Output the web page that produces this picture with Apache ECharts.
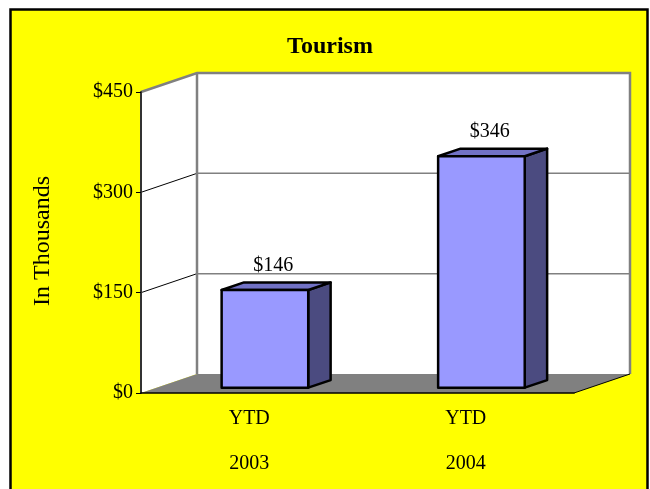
<!DOCTYPE html>
<html>
<head>
<meta charset="utf-8">
<script src="https://cdn.jsdelivr.net/npm/echarts@6/dist/echarts.min.js"></script>
<style>
  html, body { margin: 0; padding: 0; background: #ffffff; }
  #chart { width: 650px; height: 489px; }
</style>
</head>
<body>
<div id="chart"></div>
<script>
// ---- data ----
var categories = ['YTD\n\n2003', 'YTD\n\n2004'];
var values = [146, 346];
var yTicks = [0, 150, 300, 450];
var titleText = 'Tourism';
var yTitle = 'In Thousands';

// ---- style constants ----
var FONT = '"Liberation Serif", "Times New Roman", serif';
var DEPTH = [56, -19];          // 3D depth vector of the walls (px)
var BAR_F0 = 0.28, BAR_F1 = 0.68; // bar depth position fractions
var BAR_W = 0.4;                // bar width fraction of band

var chart = echarts.init(document.getElementById('chart'));

function wallsRender(params, api) {
  var cs = params.coordSys;
  var x0 = cs.x, x1 = cs.x + cs.width, yT = cs.y, yB = cs.y + cs.height;
  var dx = DEPTH[0], dy = DEPTH[1];
  var children = [];
  children.push({ type: 'polygon', shape: { points: [[x0, yT], [x0 + dx, yT + dy], [x0 + dx, yB + dy], [x0, yB]] }, style: { fill: '#ffffff' } });
  children.push({ type: 'rect', shape: { x: x0 + dx, y: yT + dy, width: cs.width, height: cs.height }, style: { fill: '#ffffff' } });
  children.push({ type: 'polygon', shape: { points: [[x0, yB], [x0 + dx, yB + dy], [x1 + dx, yB + dy], [x1, yB]] }, style: { fill: '#808080' } });
  for (var i = 1; i < yTicks.length - 1; i++) {
    var y = api.coord([0, yTicks[i]])[1];
    children.push({ type: 'line', shape: { x1: x0, y1: y, x2: x0 + dx, y2: y + dy }, style: { stroke: '#000000', lineWidth: 1 } });
    children.push({ type: 'line', shape: { x1: x0 + dx, y1: y + dy, x2: x1 + dx, y2: y + dy }, style: { stroke: '#808080', lineWidth: 1.5 } });
  }
  children.push({ type: 'polyline', shape: { points: [[x0, yT], [x0 + dx, yT + dy], [x1 + dx, yT + dy], [x1 + dx, yB + dy]] }, style: { stroke: '#808080', lineWidth: 2.5, fill: null } });
  children.push({ type: 'line', shape: { x1: x0 + dx, y1: yT + dy, x2: x0 + dx, y2: yB + dy }, style: { stroke: '#808080', lineWidth: 2.5 } });
  children.push({ type: 'line', shape: { x1: x1, y1: yB, x2: x1 + dx, y2: yB + dy }, style: { stroke: '#000000', lineWidth: 1 } });
  return { type: 'group', children: children };
}

function barRender(params, api) {
  var idx = api.value(0);
  var v = api.value(1);
  var top = api.coord([idx, v]);
  var base = api.coord([idx, 0]);
  var band = api.size([1, 0])[0];
  var w = band * BAR_W;
  var dx = DEPTH[0], dy = DEPTH[1];
  var ox = dx * BAR_F0, oy = dy * BAR_F0;
  var bx = dx * (BAR_F1 - BAR_F0), by = dy * (BAR_F1 - BAR_F0);
  var L = top[0] - w / 2 + ox, R = top[0] + w / 2 + ox;
  var T = top[1] + oy, B = base[1] + oy;
  var stroke = { stroke: '#000000', lineWidth: 2.5, lineJoin: 'round' };
  return {
    type: 'group',
    children: [
      { type: 'polygon', shape: { points: [[R, T], [R + bx, T + by], [R + bx, B + by], [R, B]] }, style: Object.assign({ fill: '#4b4b80' }, stroke) },
      { type: 'polygon', shape: { points: [[L, T], [L + bx, T + by], [R + bx, T + by], [R, T]] }, style: Object.assign({ fill: '#7272c6' }, stroke) },
      { type: 'rect', shape: { x: L, y: T, width: R - L, height: B - T }, style: Object.assign({ fill: '#9999ff' }, stroke) },
      { type: 'text', style: { text: '$' + v, x: (L + R) / 2 + bx / 2 - 3, y: T + by - 17, align: 'center', verticalAlign: 'middle', font: '20px ' + FONT, fill: '#000000' } }
    ]
  };
}

var option = {
  animation: false,
  backgroundColor: '#ffffff',
  graphic: [
    { type: 'rect', z: -10, shape: { x: 10.5, y: 9.5, width: 637, height: 500 }, style: { fill: '#ffff00', stroke: '#000000', lineWidth: 2.5 } },
    { type: 'text', z: 10, x: 330, y: 47, style: { text: titleText, align: 'center', verticalAlign: 'middle', font: 'bold 24px ' + FONT, fill: '#000000' } },
    { type: 'text', z: 10, x: 43, y: 241, rotation: Math.PI / 2, style: { text: yTitle, align: 'center', verticalAlign: 'middle', font: '24px ' + FONT, fill: '#000000' } }
  ],
  grid: { left: 141, top: 92, width: 433, height: 301, containLabel: false },
  xAxis: {
    type: 'category',
    data: categories,
    z: 5,
    axisLine: { lineStyle: { color: '#000000', width: 1.5 } },
    axisTick: { show: false },
    axisLabel: { margin: 14, fontSize: 20, lineHeight: 22.5, fontFamily: FONT, color: '#000000' },
    splitLine: { show: false }
  },
  yAxis: {
    type: 'value',
    min: 0, max: 450, interval: 150,
    z: 5,
    axisLine: { show: true, lineStyle: { color: '#333333', width: 2 } },
    axisTick: { show: true, length: 5, lineStyle: { color: '#000000' } },
    axisLabel: { margin: 8, fontSize: 20, fontFamily: FONT, color: '#000000', formatter: function (v) { return '$' + v; } },
    splitLine: { show: false }
  },
  series: [
    { type: 'custom', z: 0, silent: true, renderItem: wallsRender, data: [[0, 0]], clip: false },
    { type: 'custom', z: 3, renderItem: barRender, data: values.map(function (v, i) { return [i, v]; }), clip: false }
  ]
};
chart.setOption(option);
</script>
</body>
</html>
